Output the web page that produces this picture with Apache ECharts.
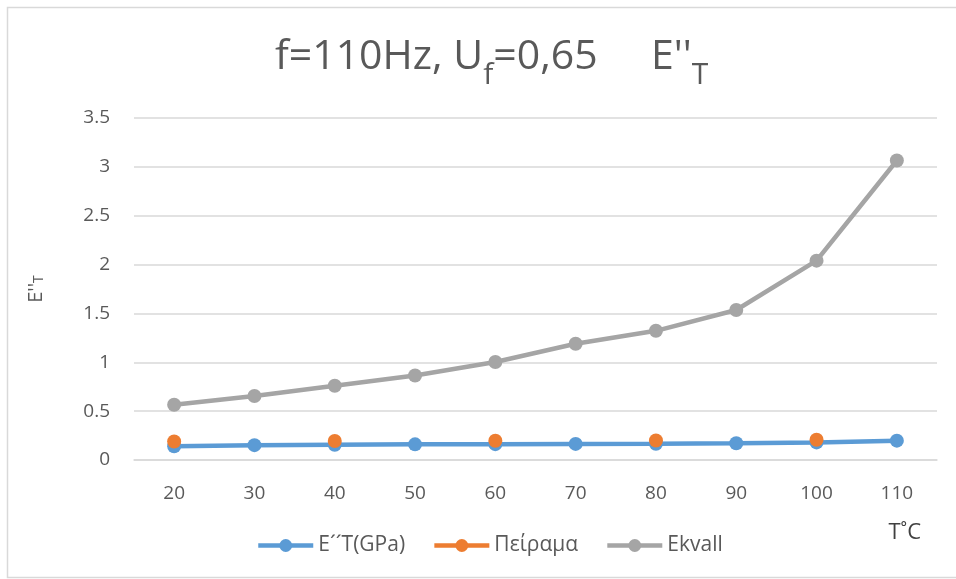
<!DOCTYPE html>
<html><head><meta charset="utf-8">
<script src="https://cdn.jsdelivr.net/npm/echarts@6/dist/echarts.min.js"></script>
<style>html,body{margin:0;padding:0;background:#fff}#c{width:956px;height:579px}</style>
</head><body><div id="c"></div>
<script>
const categories = ['20','30','40','50','60','70','80','90','100','110'];
const yTicks = [0,0.5,1,1.5,2,2.5,3,3.5];
const blueName = 'E´´T(GPa)';
const orangeName = 'Πείραμα';
const grayName = 'Ekvall';
const blueValues = [0.14,0.152,0.156,0.16,0.162,0.165,0.167,0.172,0.18,0.198];
const orangeValues = [0.19,null,0.195,null,0.197,null,0.2,null,0.207,null];
const grayValues = [0.565,0.655,0.76,0.865,1.003,1.19,1.322,1.535,2.04,3.065];

const ff = 'Open Sans, Liberation Sans, sans-serif';
const chart = echarts.init(document.getElementById('c'));
function ser(name, data, color, z){
  return {name, type:'line', data, z, connectNulls:false,
    symbol:'circle', symbolSize:14,
    lineStyle:{width:4.5,color}, itemStyle:{color},
    emphasis:{disabled:true}, animation:false};
}
chart.setOption({
  animation:false,
  title:{
    text:'{a|f=110Hz, U}{s|f}{a|=0,65     E\'\'}{s|T}',
    left:270, top:33,
    textStyle:{fontWeight:'normal',rich:{
      a:{fontFamily:ff,fontSize:41,fontWeight:'normal',color:'#595959',verticalAlign:'bottom',lineHeight:52,padding:[0,0,12,0]},
      s:{fontFamily:ff,fontSize:30,fontWeight:'normal',color:'#595959',verticalAlign:'bottom',lineHeight:48}
    }}
  },
  graphic:[{type:'rect',shape:{x:7.5,y:7.5,width:960,height:570},style:{fill:'none',stroke:'#d9d9d9',lineWidth:1.5},silent:true}],
  grid:{left:134,right:19,top:118,bottom:119},
  legend:{
    bottom:18, left:251, itemWidth:55, itemHeight:16, itemGap:27,
    lineStyle:{width:4.5},
    textStyle:{fontFamily:ff,fontSize:21,color:'#595959'},
    data:[blueName,orangeName,grayName]
  },
  xAxis:{
    type:'category', data:categories, boundaryGap:true,
    name:'T˚C', nameLocation:'end', nameGap:0,
    nameTextStyle:{fontFamily:ff,fontSize:22,color:'#404040',align:'right',verticalAlign:'top',padding:[62,16,0,0]},
    axisLine:{lineStyle:{color:'#d9d9d9',width:1.5}},
    axisTick:{show:false},
    axisLabel:{fontFamily:ff,fontSize:19,color:'#595959',margin:24}
  },
  yAxis:{
    type:'value', min:0, max:3.5, interval:0.5,
    name:"{a|E''}{s|T}", nameLocation:'middle', nameRotate:90, nameGap:88,
    nameTextStyle:{rich:{
      a:{fontFamily:ff,fontSize:20,color:'#595959',verticalAlign:'bottom',lineHeight:26},
      s:{fontFamily:ff,fontSize:14,color:'#595959',verticalAlign:'bottom',lineHeight:12}
    }},
    axisLine:{show:false}, axisTick:{show:false},
    splitLine:{lineStyle:{color:'#d9d9d9',width:1.5}},
    axisLabel:{fontFamily:ff,fontSize:19,color:'#595959',margin:24,
      formatter:v=>String(v)}
  },
  series:[
    ser(blueName, blueValues, '#5B9BD5', 2),
    ser(orangeName, orangeValues, '#ED7D31', 3),
    ser(grayName, grayValues, '#A5A5A5', 4)
  ]
});
</script></body></html>
